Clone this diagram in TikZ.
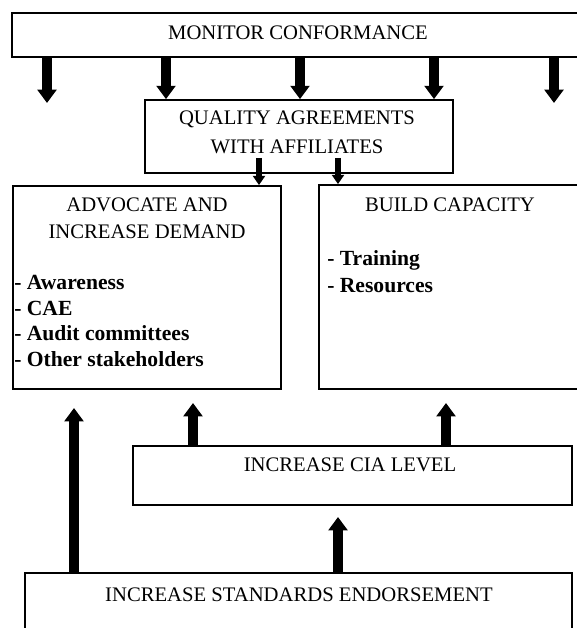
\documentclass[tikz,border=0pt]{standalone}
\usepackage{fontspec}
\setmainfont{Liberation Serif}
\usetikzlibrary{arrows.meta, positioning, calc}

\tikzset{
  box/.style={draw, line width=1.3pt, inner sep=0pt},
  title/.style={font=\fontsize{15.5}{20.25}\selectfont, align=center, inner sep=0pt},
  item/.style={font=\fontsize{16.2}{19.3}\selectfont\bfseries, align=left, inner sep=0pt, anchor=north west},
  arr/.style={line width=7pt, -{Triangle[width=14pt,length=10pt]}},
  stub/.style={line width=5pt, -{Triangle[width=9pt,length=7pt]}},
}

\begin{document}
\begin{tikzpicture}[x=0.75pt, y=-0.75pt]
  \useasboundingbox (0,0) rectangle (577,628);
  \clip (0,0) rectangle (577,628);
  % boxes
  \node[box, minimum width=429pt, minimum height=33pt] (monitor) at (298,35) {};
  \node[box, minimum width=231pt, minimum height=54.75pt] (quality) at (299,136.5) {};
  \node[box, minimum width=201pt, minimum height=152.25pt] (advocate) at (147,287.5) {};
  \node[box, minimum width=198pt, minimum height=153pt] (build) at (451,287) {};
  \node[box, minimum width=329.25pt, minimum height=44.25pt] (cia) at (352.5,475.5) {};
  \node[box, minimum width=410.25pt, minimum height=65.25pt] (endorse) at (298.5,616.5) {};

  % texts
  \node[title] (montext) at (298,33) {MONITOR CONFORMANCE};
  \node[title, font=\fontsize{15.5}{21.75}\selectfont] (qualtext) at (297,132.5) {QUALITY AGREEMENTS\\WITH AFFILIATES};
  \node[title] (advtitle) at (147,218.5) {ADVOCATE AND\\INCREASE DEMAND};
  \node[item] (advitems) at (14,275) {- Awareness\\- CAE\\- Audit committees\\- Other stakeholders};
  \node[title] (buildtitle) at (450,205) {BUILD CAPACITY};
  \node[item, font=\fontsize{16.2}{20.25}\selectfont\bfseries] (builditems) at (327,250) {- Training\\- Resources};
  \node[title] (ciatext) at (350,465) {INCREASE CIA LEVEL};
  \node[title] (endtext) at (299,595) {INCREASE STANDARDS ENDORSEMENT};

  % arrows down from monitor
  \foreach \x in {166,300,434}
    \draw[arr] (monitor.south -| \x,0) -- (quality.north -| \x,0);
  \foreach \x in {47,554} {
    \coordinate (tip\x) at (\x,103);
    \draw[arr] (monitor.south -| tip\x) -- (tip\x);
  }
  \draw[stub] ([xshift=-30pt,yshift=12pt]quality.south) -- ([xshift=-30pt]quality.south |- advocate.north);
  \draw[stub] ([xshift=29.25pt,yshift=12pt]quality.south) -- ([xshift=29.25pt]quality.south |- build.north);

  % arrows up
  \coordinate (tipA) at (74,408);
  \coordinate (tipB) at (193,403);
  \coordinate (tipC) at (446,403);
  \coordinate (tipD) at (338,517);
  \draw[arr] (endorse.north -| tipA) -- (tipA);
  \draw[arr] (cia.north -| tipB) -- (tipB);
  \draw[arr] (cia.north -| tipC) -- (tipC);
  \draw[arr] (endorse.north -| tipD) -- (tipD);
\end{tikzpicture}
\end{document}
